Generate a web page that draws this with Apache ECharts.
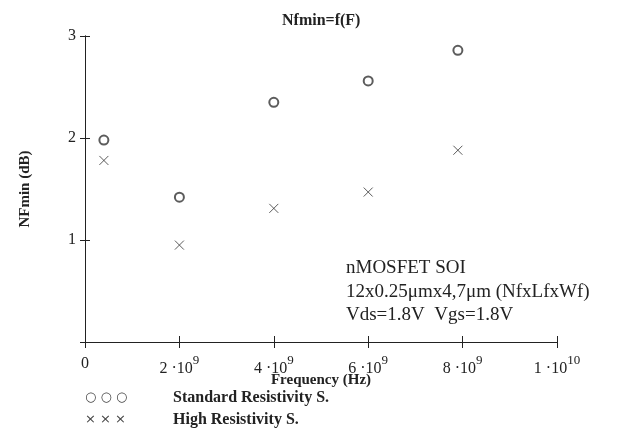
<!DOCTYPE html>
<html>
<head>
<meta charset="utf-8">
<script src="https://cdn.jsdelivr.net/npm/echarts@6/dist/echarts.min.js"></script>
<style>body{margin:0}#main{width:644px;height:433px}</style>
</head>
<body>
<div id="main"></div>
<script>
// frequency (Hz) and NFmin (dB)
var freq = [0.4e9, 2.0e9, 4.0e9, 6.0e9, 7.9e9];
var nfStandard = [1.98, 1.42, 2.35, 2.56, 2.86];
var nfHigh = [1.78, 0.95, 1.31, 1.47, 1.88];
var xTicks = {0: '0', 2e9: '2', 4e9: '4', 6e9: '6', 8e9: '8', 1e10: '1'};
var xExp = {2e9: '9', 4e9: '9', 6e9: '9', 8e9: '9', 1e10: '10'};
var notes = ['nMOSFET SOI', '12x0.25\u03bcmx4,7\u03bcm (NfxLfxWf)', 'Vds=1.8V  Vgs=1.8V'];

var serif = 'Liberation Serif';
var ink = '#222';
var cross = 'path://M0,0L10,10M10,0L0,10';

function pairs(ys) { return freq.map(function (f, i) { return [f, ys[i]]; }); }

var chart = echarts.init(document.getElementById('main'));
var xBase = {
  type: 'value', min: 0, max: 1e10, interval: 2e9,
  axisLine: {lineStyle: {color: ink}}, splitLine: {show: false}
};
var yBase = {
  type: 'value', min: 0, max: 3, interval: 1,
  axisLine: {lineStyle: {color: ink}}, splitLine: {show: false}
};
chart.setOption({
  animation: false,
  textStyle: {fontFamily: serif, color: ink},
  title: {
    text: 'Nfmin=f(F)', left: 277, top: 8,
    textStyle: {fontFamily: serif, fontSize: 16, fontWeight: 'bold', color: ink}
  },
  grid: {left: 85, right: 87, top: 36, bottom: 91},
  xAxis: [
    Object.assign({}, xBase, {
      name: 'Frequency (Hz)', nameLocation: 'middle', nameGap: 31, nameMoveOverlap: false,
      nameTextStyle: {fontFamily: serif, fontSize: 15, fontWeight: 'bold', color: ink},
      axisTick: {length: 6, lineStyle: {color: ink}},
      axisLabel: {
        margin: 12, color: ink,
        formatter: function (v) {
          if (v === 0) return '{b|0}';
          return '{b|' + xTicks[v] + ' \u00b710}{s|' + xExp[v] + '}';
        },
        rich: {
          b: {fontFamily: serif, fontSize: 16, color: ink, verticalAlign: 'bottom', lineHeight: 18},
          s: {fontFamily: serif, fontSize: 13, color: ink, verticalAlign: 'top', padding: [0, 0, 10, 0]}
        }
      }
    }),
    Object.assign({}, xBase, {
      position: 'bottom', axisLabel: {show: false},
      axisTick: {inside: true, length: 6, lineStyle: {color: ink}}
    })
  ],
  yAxis: [
    Object.assign({}, yBase, {
      name: 'NFmin (dB)', nameLocation: 'middle', nameGap: 52,
      nameTextStyle: {fontFamily: serif, fontSize: 15, fontWeight: 'bold', color: ink},
      axisTick: {length: 5, lineStyle: {color: ink}},
      axisLabel: {margin: 9, fontFamily: serif, fontSize: 16, color: ink,
        formatter: function (v) { return v === 0 ? '' : String(v); }}
    }),
    Object.assign({}, yBase, {
      position: 'left', axisLabel: {show: false},
      axisTick: {inside: true, length: 5, lineStyle: {color: ink}}
    })
  ],
  legend: {
    orient: 'vertical', left: 80, top: 389, itemGap: 5, padding: 0,
    icon: 'none', itemWidth: 0, itemHeight: 18,
    data: ['Standard Resistivity S.', 'High Resistivity S.'],
    formatter: function (name) {
      var sym = name.indexOf('Standard') === 0 ? '\u25cb \u25cb \u25cb' : '\u00d7 \u00d7 \u00d7';
      return '{m|' + sym + '}{n|' + name + '}';
    },
    textStyle: {
      rich: {
        m: {fontFamily: 'DejaVu Sans', fontSize: 13, color: '#444', width: 88, lineHeight: 18},
        n: {fontFamily: serif, fontSize: 16, fontWeight: 'bold', color: ink, lineHeight: 18}
      }
    }
  },
  graphic: notes.map(function (t, i) {
    return {
      type: 'text', left: 346, top: 259 + i * 23.5,
      style: {text: t, fontFamily: serif, fontSize: 19, fill: ink}
    };
  }),
  series: [
    {
      name: 'Standard Resistivity S.', type: 'scatter', data: pairs(nfStandard),
      symbol: 'emptyCircle', symbolSize: 9,
      itemStyle: {color: '#333', borderColor: '#333', borderWidth: 1}
    },
    {
      name: 'High Resistivity S.', type: 'scatter', data: pairs(nfHigh),
      symbol: cross, symbolSize: 9,
      itemStyle: {color: 'none', borderColor: '#333', borderWidth: 1}
    }
  ]
});
</script>
</body>
</html>
